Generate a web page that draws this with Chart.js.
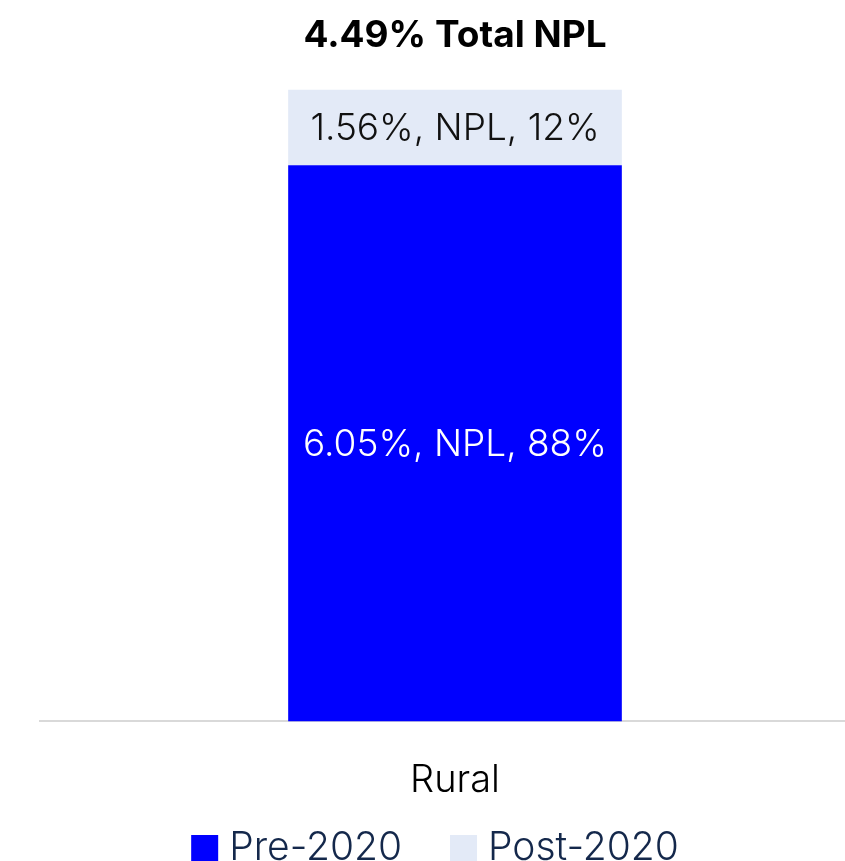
<!DOCTYPE html>
<html>
<head>
<meta charset="utf-8">
<script src="https://cdn.jsdelivr.net/npm/chart.js@4.4.0/dist/chart.umd.min.js"></script>
<style>
  html, body { margin: 0; padding: 0; background: #fff; overflow: hidden; }
  #wrap { width: 880px; height: 861px; }
</style>
</head>
<body>
<div id="wrap"><canvas id="myChart"></canvas></div>
<script>
// data
const categories = ['Rural'];
const seriesNames = ['Pre-2020', 'Post-2020'];
const shareValues = [[88], [12]];      // % of total NPL
const nplRates = [[6.05], [1.56]];     // NPL ratio per segment
const titleText = '4.49% Total NPL';

const colors = ['#0000ff', '#e3eaf7'];
const labelColors = ['#ffffff', '#111111'];

// draw "x%, NPL, y%" in the middle of each segment
const segmentLabels = {
  id: 'segmentLabels',
  afterDatasetsDraw(chart) {
    const ctx = chart.ctx;
    chart.data.datasets.forEach((ds, i) => {
      chart.getDatasetMeta(i).data.forEach((bar, j) => {
        const p = bar.getProps(['x', 'y', 'base'], true);
        const txt = nplRates[i][j].toFixed(2) + '%, NPL, ' + ds.data[j] + '%';
        ctx.save();
        ctx.font = '300 37px Inter';
        ctx.fillStyle = labelColors[i];
        ctx.textAlign = 'center';
        ctx.textBaseline = 'middle';
        ctx.fillText(txt, p.x, (p.y + p.base) / 2 + 2);
        ctx.restore();
      });
    });
  }
};

// legend drawn by hand so the spacing can follow the picture
const bottomLegend = {
  id: 'bottomLegend',
  afterDraw(chart) {
    const ctx = chart.ctx;
    const boxW = 27, boxGap = 11, itemGap = 48, baseY = 860, boxTop = 835;
    ctx.save();
    ctx.font = '300 39px Inter';
    ctx.textBaseline = 'alphabetic';
    ctx.textAlign = 'left';
    const widths = seriesNames.map(n => ctx.measureText(n).width);
    const total = widths.reduce((a, w) => a + boxW + boxGap + w, 0) + itemGap * (seriesNames.length - 1);
    let x = 435 - total / 2;
    seriesNames.forEach((n, i) => {
      ctx.fillStyle = colors[i];
      ctx.fillRect(x, boxTop, boxW, chart.height - boxTop);
      ctx.fillStyle = '#14284b';
      ctx.fillText(n, x + boxW + boxGap, baseY);
      x += boxW + boxGap + widths[i] + itemGap;
    });
    ctx.restore();
  }
};

const ctx = document.getElementById('myChart').getContext('2d');

const chart = new Chart(ctx, {
  type: 'bar',
  data: {
    labels: categories,
    datasets: seriesNames.map((name, i) => ({
      label: name,
      data: shareValues[i],
      backgroundColor: colors[i],
      borderWidth: 0,
      barPercentage: 0.402,
      categoryPercentage: 1
    }))
  },
  options: {
    responsive: true,
    maintainAspectRatio: false,
    animation: false,
    layout: { padding: { left: 40, right: 10, top: 0, bottom: 30 } },
    plugins: {
      title: {
        display: true,
        text: titleText,
        color: '#000',
        font: { family: 'Inter', size: 37, weight: 'bold' },
        padding: { top: 14, bottom: 31 }
      },
      legend: { display: false },
      tooltip: { enabled: false }
    },
    scales: {
      x: {
        stacked: true,
        grid: { display: false },
        border: { display: true, color: '#d9d9d9', width: 2 },
        ticks: {
          color: '#000',
          font: { family: 'Inter', size: 38, weight: '300' },
          padding: 28
        }
      },
      y: {
        stacked: true,
        display: false,
        min: 0,
        max: 100
      }
    }
  },
  plugins: [segmentLabels, bottomLegend]
});
</script>
</body>
</html>
